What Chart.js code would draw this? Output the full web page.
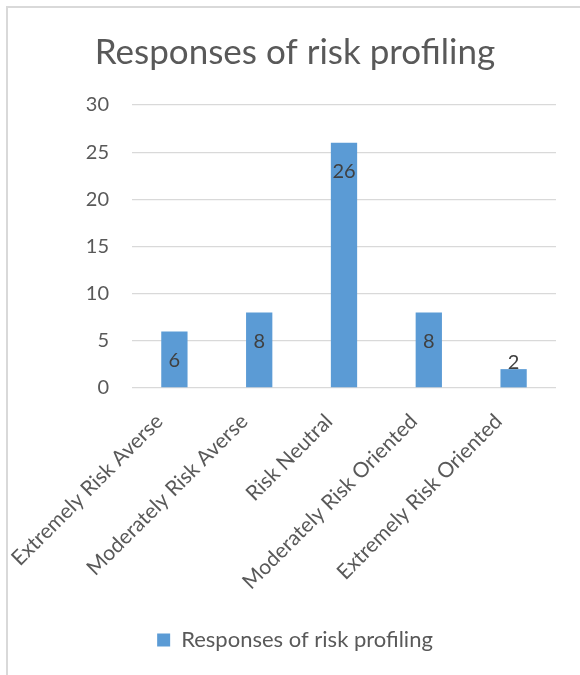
<!DOCTYPE html>
<html>
<head>
<meta charset="utf-8">
<script src="https://cdn.jsdelivr.net/npm/chart.js@4.4.0/dist/chart.umd.min.js"></script>
<style>
    html, body { margin: 0; padding: 0; background: #fff; }
    #frame {
        position: absolute; left: 6px; top: 6px;
        width: 574px; height: 669px;
        border-left: 2px solid #d9d9d9; border-top: 2px solid #d9d9d9;
    }
    #wrap { position: relative; width: 572px; height: 667px; }
</style>
</head>
<body>
<div id="frame"><div id="wrap"><canvas id="riskChart"></canvas></div></div>
<script>
// Responses of risk profiling - column chart

const categories = [
    'Extremely Risk Averse',
    'Moderately Risk Averse',
    'Risk Neutral',
    'Moderately Risk Oriented',
    'Extremely Risk Oriented'
];
const responses = [6, 8, 26, 8, 2];
const yTicks = [0, 5, 10, 15, 20, 25, 30];

const FONT = "Lato, 'Open Sans', sans-serif";
const TEXT = '#595959';

// Value labels at the top end of each bar (outside when the bar is short)
const barLabels = {
    id: 'barLabels',
    afterDatasetsDraw(chart) {
        const ctx = chart.ctx;
        const meta = chart.getDatasetMeta(0);
        ctx.save();
        ctx.font = '20px ' + FONT;
        ctx.fillStyle = '#404040';
        ctx.textAlign = 'center';
        ctx.textBaseline = 'middle';
        meta.data.forEach((bar, i) => {
            const h = bar.base - bar.y;
            const y = h > 40 ? bar.y + 29 : bar.y - 7;
            ctx.fillText(String(responses[i]), bar.x, y);
        });
        ctx.restore();
    }
};

new Chart(document.getElementById('riskChart'), {
    type: 'bar',
    data: {
        labels: categories,
        datasets: [{
            label: 'Responses of risk profiling',
            data: responses,
            backgroundColor: '#5b9bd5',
            borderWidth: 0,
            barPercentage: 0.31,
            categoryPercentage: 1
        }]
    },
    options: {
        responsive: true,
        maintainAspectRatio: false,
        animation: false,
        layout: { padding: { left: 26, right: 24, top: 0, bottom: 14 } },
        plugins: {
            title: {
                display: true,
                text: 'Responses of risk profiling',
                color: TEXT,
                font: { family: FONT, size: 35, weight: 'normal' },
                padding: { top: 24, bottom: 31 }
            },
            legend: {
                position: 'bottom',
                labels: {
                    color: TEXT,
                    font: { family: FONT, size: 22 },
                    boxWidth: 13,
                    boxHeight: 13,
                    padding: 8
                }
            },
            tooltip: { enabled: false }
        },
        scales: {
            x: {
                grid: { display: false, drawTicks: false },
                border: { display: false },
                ticks: {
                    color: TEXT,
                    font: { family: FONT, size: 21 },
                    minRotation: 45,
                    maxRotation: 45,
                    padding: 21,
                    labelOffset: -15
                },
                afterFit: s => {
                    s.height = 233;
                    s.paddingLeft = 0;
                    s.paddingRight = 0;
                }
            },
            y: {
                min: 0,
                max: 30,
                afterBuildTicks: s => { s.ticks = yTicks.map(v => ({ value: v })); },
                grid: { color: '#d9d9d9', lineWidth: 1.3, drawTicks: false },
                border: { display: false },
                ticks: {
                    color: TEXT,
                    font: { family: FONT, size: 20 },
                    padding: 23
                },
                afterFit: s => { s.width = 98; }
            }
        }
    },
    plugins: [barLabels]
});
</script>
</body>
</html>
